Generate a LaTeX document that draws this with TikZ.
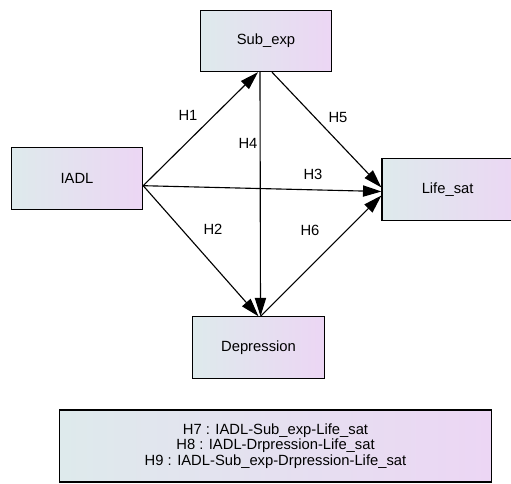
\documentclass[tikz,border=0pt]{standalone}
\usepackage{fontspec}
\setmainfont{Liberation Sans}
\usetikzlibrary{arrows.meta}

\begin{document}
\begin{tikzpicture}[x=0.025cm, y=-0.025cm, thick,
        var/.style={draw, shade, left color=gbleft, right color=gbright, minimum width=3.28cm, minimum height=1.53cm, font=\fontsize{10.5}{12}\selectfont},
        hyp/.style={font=\fontsize{10.5}{12}\selectfont},
        path/.style={-{Triangle[length=4.6mm, width=2.8mm]}}]
        \definecolor{gbleft}{HTML}{DEEAEC}
        \definecolor{gbright}{HTML}{ECD6F4}
        \useasboundingbox (0,0) rectangle (511,484);
        % variabili del modello
        \node[var] (subexp) at (266, 41) {Sub\_exp};

        \node[var] (iadl) at (77, 178.5) {IADL};

        \node[var, minimum width=3.5cm] (lifesat) at (452, 189.5) {\hspace*{-0.22cm}Life\_sat};

        \node[var] (depr) at (258.5, 347.5) {Depression};
        % riquadro con le ipotesi indirette
        \node[var, minimum width=10.78cm, minimum height=1.8cm, align=center, font=\fontsize{10.5}{11}\selectfont] (legend) at (275.5, 446)
            {H7 : IADL-Sub\_exp-Life\_sat\\H8 : IADL-Drpression-Life\_sat\\H9 : IADL-Sub\_exp-Drpression-Life\_sat};

        % punti di attacco delle frecce
        \coordinate (iadl_out) at ([yshift=-0.18cm]iadl.east);
        \coordinate (sub_in) at ([xshift=-0.2cm]subexp.south);
        \coordinate (sub_out) at ([xshift=0.15cm]subexp.south);
        \coordinate (dep_in) at ([xshift=0.05cm]depr.north);
        \coordinate (life_a) at ([yshift=0.05cm]lifesat.west);
        \coordinate (life_b) at ([yshift=-0.05cm]lifesat.west);
        \coordinate (life_c) at ([yshift=-0.15cm]lifesat.west);

        \draw[path] (iadl_out) -- (sub_in);
        \draw[path] (iadl_out) -- (depr.north);
        \draw[path] (iadl_out) -- (life_b);
        \draw[path] (subexp.south) ++(-0.15cm,0) -- (dep_in);
        \draw[path] (sub_out) -- (life_a);
        \draw[path] (dep_in) -- (life_c);

        % etichette delle ipotesi
        \node[hyp] (h1) at (188, 115) {H1};
        \node[hyp] (h2) at (213, 229) {H2};
        \node[hyp] (h3) at (313, 174) {H3};
        \node[hyp] (h4) at (248, 143) {H4};
        \node[hyp] (h5) at (338, 117) {H5};
        \node[hyp] (h6) at (310, 230) {H6};
    \end{tikzpicture}
\end{document}
